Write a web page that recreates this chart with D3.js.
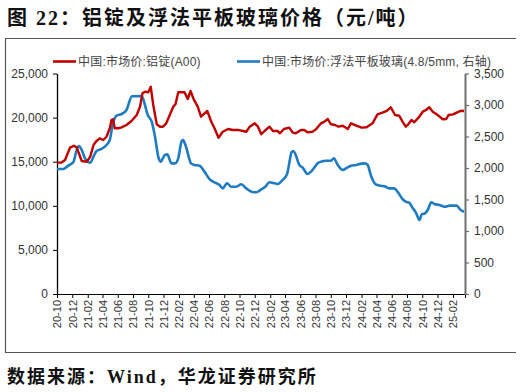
<!DOCTYPE html>
<html>
<head>
<meta charset="utf-8">
<script src="https://cdn.jsdelivr.net/npm/d3@7"></script>
<style>
  body { margin: 0; background: #fff; }
  text { fill: #333; }
</style>
</head>
<body>
<div id="chart"></div>
<script>
// aluminium ingot A00 (yuan/t, left axis)
var alDates = ["2020-10-01","2020-10-19","2020-11-02","2020-11-22","2020-12-08","2020-12-19","2021-01-08","2021-01-28",
  "2021-02-11","2021-02-24","2021-03-08","2021-03-21","2021-04-04","2021-04-17","2021-04-30","2021-05-07","2021-05-13",
  "2021-05-20","2021-06-03","2021-06-16","2021-07-06","2021-07-26","2021-08-16","2021-08-29","2021-09-08","2021-09-18",
  "2021-10-01","2021-10-11","2021-10-21","2021-11-04","2021-11-17","2021-11-29","2021-12-12","2021-12-26","2022-01-09",
  "2022-01-18","2022-01-29","2022-02-23","2022-03-08","2022-03-19","2022-04-02","2022-04-17","2022-04-30","2022-05-25",
  "2022-06-10","2022-06-23","2022-07-09","2022-07-26","2022-08-16","2022-09-05","2022-09-25","2022-10-28","2022-11-11",
  "2022-12-01","2022-12-14","2022-12-27","2023-01-09","2023-01-29","2023-02-12","2023-03-02","2023-03-12","2023-03-28",
  "2023-04-18","2023-05-01","2023-05-14","2023-06-04","2023-06-17","2023-06-30","2023-07-20","2023-08-03","2023-08-23",
  "2023-09-06","2023-09-19","2023-10-02","2023-10-18","2023-11-01","2023-11-18","2023-12-08","2023-12-21","2024-01-11",
  "2024-02-01","2024-02-21","2024-03-16","2024-04-05","2024-04-25","2024-05-12","2024-05-28","2024-06-14","2024-07-01",
  "2024-07-14","2024-07-27","2024-08-06","2024-08-19","2024-08-30","2024-09-16","2024-10-03","2024-10-16","2024-10-29",
  "2024-11-12","2024-12-02","2024-12-22","2025-01-05","2025-01-14","2025-02-01","2025-02-18","2025-03-04","2025-03-17"];
var alValues = [14890,14900,15190,16590,16810,16600,15080,15000,
  15570,16890,17350,17650,17460,17830,18790,19730,19810,
  18790,18790,18900,19160,19610,20290,21240,22750,22940,
  22870,23500,21430,19240,18970,18970,19350,20290,21240,
  21510,22870,22870,22110,23020,22000,21240,20100,20750,
  19540,18790,17720,18400,18710,18600,18600,18400,18970,
  19350,18970,18110,18480,18970,18480,18480,18220,18710,
  18860,18330,18220,18600,18600,18330,18400,18670,19350,
  19540,19840,19240,19160,18970,19080,18710,19350,19080,
  18860,18900,19350,20370,20560,20750,21170,20290,20210,
  19540,18970,19240,19730,19470,19990,20670,20860,21170,
  20670,20290,19810,19840,20290,20370,20600,20780,20750];

// float glass 4.8/5mm (yuan/t, right axis)
var glDates = ["2020-10-01","2020-10-26","2020-11-15","2020-12-05","2020-12-19","2020-12-28","2021-01-08","2021-01-21",
  "2021-02-11","2021-02-24","2021-03-08","2021-03-28","2021-04-17","2021-04-30","2021-05-13","2021-05-27","2021-06-16",
  "2021-07-06","2021-07-28","2021-09-05","2021-09-12","2021-09-29","2021-10-15","2021-10-28","2021-11-11","2021-11-20",
  "2021-12-06","2021-12-16","2022-01-02","2022-01-16","2022-01-29","2022-02-11","2022-02-17","2022-03-01","2022-03-21",
  "2022-04-04","2022-04-24","2022-05-14","2022-06-03","2022-06-23","2022-07-13","2022-07-26","2022-08-12","2022-08-29",
  "2022-09-18","2022-10-08","2022-10-28","2022-11-18","2022-12-07","2022-12-27","2023-01-12","2023-01-29","2023-02-18",
  "2023-03-02","2023-03-22","2023-04-09","2023-04-18","2023-04-27","2023-05-05","2023-05-14","2023-05-27","2023-06-11",
  "2023-06-30","2023-07-14","2023-07-27","2023-08-10","2023-08-23","2023-09-12","2023-10-02","2023-10-13","2023-10-29",
  "2023-11-18","2023-12-05","2023-12-21","2024-01-11","2024-02-01","2024-02-13","2024-02-26","2024-03-09","2024-03-29",
  "2024-04-18","2024-05-08","2024-05-21","2024-06-11","2024-06-24","2024-07-14","2024-07-27","2024-08-10","2024-08-23",
  "2024-09-07","2024-09-20","2024-09-29","2024-10-12","2024-10-23","2024-11-06","2024-11-19","2024-12-09","2024-12-29",
  "2025-01-19","2025-02-15","2025-03-04","2025-03-17"];
var glValues = [1984,1984,2037,2090,2286,2349,2286,2154,
  2084,2180,2270,2302,2365,2444,2709,2830,2857,
  2921,3140,3143,3079,2841,2735,2497,2164,2100,
  2206,2217,2074,2074,2154,2418,2444,2338,2074,
  2048,2037,1942,1825,1773,1730,1677,1757,1703,
  1703,1741,1677,1624,1614,1660,1703,1773,1757,
  1746,1810,1900,2074,2249,2270,2206,2059,2005,
  1905,1942,2005,2074,2100,2116,2116,2154,2048,
  1968,2005,2037,2048,2069,2074,2048,1889,1741,
  1719,1703,1677,1677,1624,1508,1465,1449,1370,
  1281,1175,1265,1281,1333,1455,1429,1413,1386,
  1402,1402,1333,1306];

var leftTicks = [0, 5000, 10000, 15000, 20000, 25000];
var rightTicks = [0, 500, 1000, 1500, 2000, 2500, 3000, 3500];
var seriesNames = ["中国:市场价:铝锭(A00)", "中国:市场价:浮法平板玻璃(4.8/5mm, 右轴)"];
var titleText = "图 22：铝锭及浮法平板玻璃价格（元/吨）";
var sourceText = "数据来源：Wind，华龙证券研究所";

var width = 521, height = 392;
var plotLeft = 57, plotRight = 465, plotTop = 73.5, plotBottom = 294;
var red = "#c00000", blue = "#1f7bc2";
var cjk = "'Liberation Serif', 'Noto Sans CJK SC', serif";
var label = "'Liberation Sans', 'Noto Sans CJK SC', sans-serif";

var svg = d3.select("#chart").append("svg")
  .attr("width", width)
  .attr("height", height);

// title and source
svg.append("text")
  .attr("x", 7).attr("y", 25)
  .attr("font-family", cjk).attr("font-weight", "bold").attr("font-size", 20)
  .attr("letter-spacing", 2)
  .style("fill", "#111")
  .text(titleText);

svg.append("text")
  .attr("x", 7).attr("y", 383)
  .attr("font-family", cjk).attr("font-weight", "bold").attr("font-size", 18)
  .attr("letter-spacing", 2)
  .style("fill", "#111")
  .text(sourceText);

// frame around the chart
svg.append("path")
  .attr("d", "M516,38.5H5.5V352.5H516")
  .attr("fill", "none").attr("stroke", "#555").attr("stroke-width", 1.2);

var parse = d3.timeParse("%Y-%m-%d");
var al = alDates.map(function(d, i) { return { date: parse(d), value: alValues[i] }; });
var gl = glDates.map(function(d, i) { return { date: parse(d), value: glValues[i] }; });

var xScale = d3.scaleTime()
  .domain([parse("2020-10-01"), parse("2025-03-21")])
  .range([plotLeft, plotRight]);
var yLeft = d3.scaleLinear().domain([0, 25000]).range([plotBottom, plotTop]);
var yRight = d3.scaleLinear().domain([0, 3500]).range([plotBottom, plotTop]);

// x axis: every even month (Oct, Dec, Feb ...)
var xTicks = d3.timeMonth.range(parse("2020-10-01"), parse("2025-03-02"))
  .filter(function(d) { return d.getMonth() % 2 === 1; });
var xAxis = d3.axisBottom(xScale)
  .tickValues(xTicks)
  .tickFormat(d3.timeFormat("%y-%m"))
  .tickSize(4);
var gx = svg.append("g")
  .attr("transform", "translate(0," + plotBottom + ")")
  .call(xAxis);
gx.select(".domain").attr("stroke", "#000");
gx.selectAll(".tick line").attr("stroke", "#000");
gx.selectAll(".tick text")
  .attr("font-family", label).attr("font-size", 11)
  .attr("transform", "rotate(-90)")
  .attr("text-anchor", "end")
  .attr("x", -6).attr("y", 0).attr("dy", "0.35em")
  .style("fill", "#333");

// left axis
var gl1 = svg.append("g")
  .attr("transform", "translate(" + plotLeft + ",0)")
  .call(d3.axisLeft(yLeft).tickValues(leftTicks).tickFormat(d3.format(",")).tickSize(4).tickSizeOuter(0));
gl1.select(".domain").attr("stroke", "#000").attr("stroke-width", 1.3);
gl1.selectAll(".tick line").attr("stroke", "#000");
gl1.selectAll(".tick text").attr("font-family", label).attr("font-size", 12).attr("x", -9).style("fill", "#333");

// right axis
var gr = svg.append("g")
  .attr("transform", "translate(" + plotRight + ",0)")
  .call(d3.axisRight(yRight).tickValues(rightTicks).tickFormat(d3.format(",")).tickSize(4).tickSizeOuter(0));
gr.select(".domain").attr("stroke", "#6e6e6e").attr("stroke-width", 2);
gr.selectAll(".tick line").attr("stroke", "#6e6e6e").attr("stroke-width", 1.2);
gr.selectAll(".tick text").attr("font-family", label).attr("font-size", 12).attr("x", 9).style("fill", "#333");

// lines
var lineAl = d3.line()
  .x(function(d) { return xScale(d.date); })
  .y(function(d) { return yLeft(d.value); });
var lineGl = d3.line()
  .curve(d3.curveMonotoneX)
  .x(function(d) { return xScale(d.date); })
  .y(function(d) { return yRight(d.value); });

svg.append("path").datum(gl)
  .attr("d", lineGl)
  .attr("fill", "none").attr("stroke", blue).attr("stroke-width", 2.6)
  .attr("stroke-linejoin", "round");
svg.append("path").datum(al)
  .attr("d", lineAl)
  .attr("fill", "none").attr("stroke", red).attr("stroke-width", 2.4)
  .attr("stroke-linejoin", "round");

// legend
var legend = [
  { name: seriesNames[0], color: red, x: 53 },
  { name: seriesNames[1], color: blue, x: 237 }
];
var lg = svg.selectAll(".legend").data(legend).enter().append("g")
  .attr("class", "legend")
  .attr("transform", function(d) { return "translate(" + d.x + ",61.5)"; });
lg.append("line")
  .attr("x1", 0).attr("x2", 23).attr("y1", 0).attr("y2", 0)
  .attr("stroke", function(d) { return d.color; }).attr("stroke-width", 2.6);
lg.append("text")
  .attr("x", 25).attr("dy", "0.36em")
  .attr("font-family", label).attr("font-size", 12)
  .attr("letter-spacing", 0.2)
  .style("fill", "#444")
  .text(function(d) { return d.name; });
</script>
</body>
</html>
